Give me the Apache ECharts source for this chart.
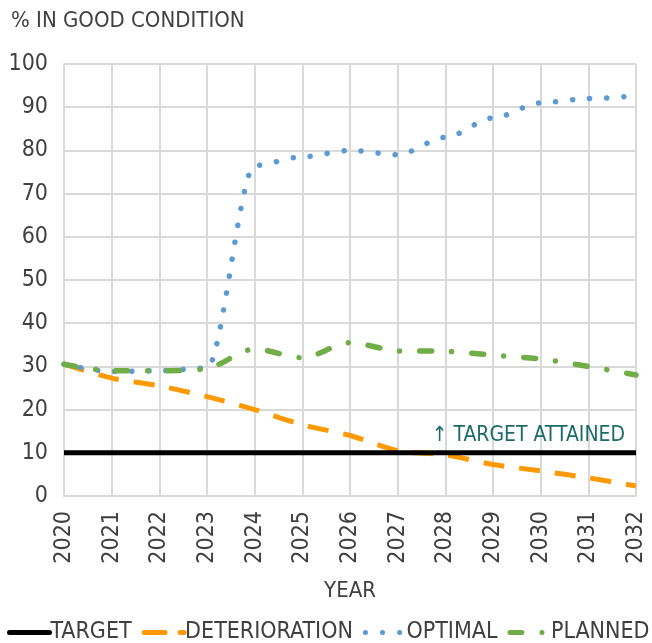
<!DOCTYPE html>
<html><head><meta charset="utf-8">
<script src="https://cdn.jsdelivr.net/npm/echarts@6/dist/echarts.min.js"></script>
<style>html,body{margin:0;padding:0;background:#fff}#c{width:652px;height:643px}</style>
</head><body><div id="c"></div>
<script>
const years = ['2020','2021','2022','2023','2024','2025','2026','2027','2028','2029','2030','2031','2032'];
const target = [10,10,10,10,10,10,10,10,10,10,10,10,10];
const deterioration = [30.5,27.3,25.5,23,20,16.5,14,10.5,9.5,7.3,5.8,4.2,2.3];
const optimal = [30.5,28.8,29,29.6,76.5,78.5,80,79,83,87.5,91,92,92.6];
const planned = [30.5,29,29,29.5,34,32,35.5,33.6,33.5,32.6,31.7,30,28];
const yTicks = [0,10,20,30,40,50,60,70,80,90,100];

const FONT = '"DejaVu Sans Condensed","DejaVu Sans",sans-serif';
const TXT = '#404040';
const chart = echarts.init(document.getElementById('c'), null, {renderer:'canvas'});
chart.setOption({
  animation:false,
  textStyle:{fontFamily:FONT},
  title:{text:'% IN GOOD CONDITION', left:6, top:5, textStyle:{fontFamily:FONT, fontSize:22, fontWeight:'normal', color:TXT}},
  grid:{left:64, right:16, top:64, bottom:147},
  xAxis:{type:'category', data:years, boundaryGap:false,
    name:'YEAR', nameLocation:'middle', nameGap:84,
    nameTextStyle:{fontFamily:FONT, fontSize:22, color:TXT},
    axisLine:{lineStyle:{color:'#d9d9d9', width:2}},
    axisTick:{show:false},
    axisLabel:{rotate:90, fontSize:23, color:TXT, margin:15, fontFamily:FONT},
    splitLine:{show:true, lineStyle:{color:'#d9d9d9', width:2}}},
  yAxis:{type:'value', min:0, max:100, interval:10,
    axisLine:{show:true, lineStyle:{color:'#d9d9d9', width:2}},
    axisTick:{show:false},
    axisLabel:{fontSize:23, color:TXT, margin:16, fontFamily:FONT, formatter:v=>yTicks.includes(v)?String(v):''},
    splitLine:{lineStyle:{color:'#d9d9d9', width:2}}},
  legend:{bottom:-6, left:2, width:1000, itemGap:10, itemWidth:40, itemHeight:14,
    itemStyle:{opacity:0},
    lineStyle:{width:5, cap:'round'},
    textStyle:{fontFamily:FONT, fontSize:23, color:TXT, padding:[0,0,0,-4]},
    data:['TARGET','DETERIORATION','OPTIMAL','PLANNED']},
  series:[
    {name:'TARGET', type:'line', data:target, showSymbol:false, symbol:'none',
      lineStyle:{color:'#000', width:5}, itemStyle:{color:'#000'}, z:5,
      markPoint:{symbol:'circle', symbolSize:0, silent:true,
        data:[{coord:['2032',10]}],
        label:{show:true, formatter:'↑ TARGET ATTAINED', position:'left', offset:[-6,-17],
          fontFamily:FONT, fontSize:21, color:'#1c6b6b'}}},
    {name:'DETERIORATION', type:'line', data:deterioration, showSymbol:false, symbol:'none', smooth:0.3,
      lineStyle:{color:'#ff9900', width:5, type:[21,15]}, itemStyle:{color:'#ff9900'}},
    {name:'OPTIMAL', type:'line', data:optimal, showSymbol:false, symbol:'none', smooth:0.3, smoothMonotone:'x',
      lineStyle:{color:'#5b9bd5', width:5.5, type:[0.1,17], cap:'round'}, itemStyle:{color:'#5b9bd5'}},
    {name:'PLANNED', type:'line', data:planned, showSymbol:false, symbol:'none', smooth:0.3,
      lineStyle:{color:'#70ad47', width:5.5, type:[12,20,0.1,20], cap:'round'}, itemStyle:{color:'#70ad47'}}
  ]
});
</script></body></html>
